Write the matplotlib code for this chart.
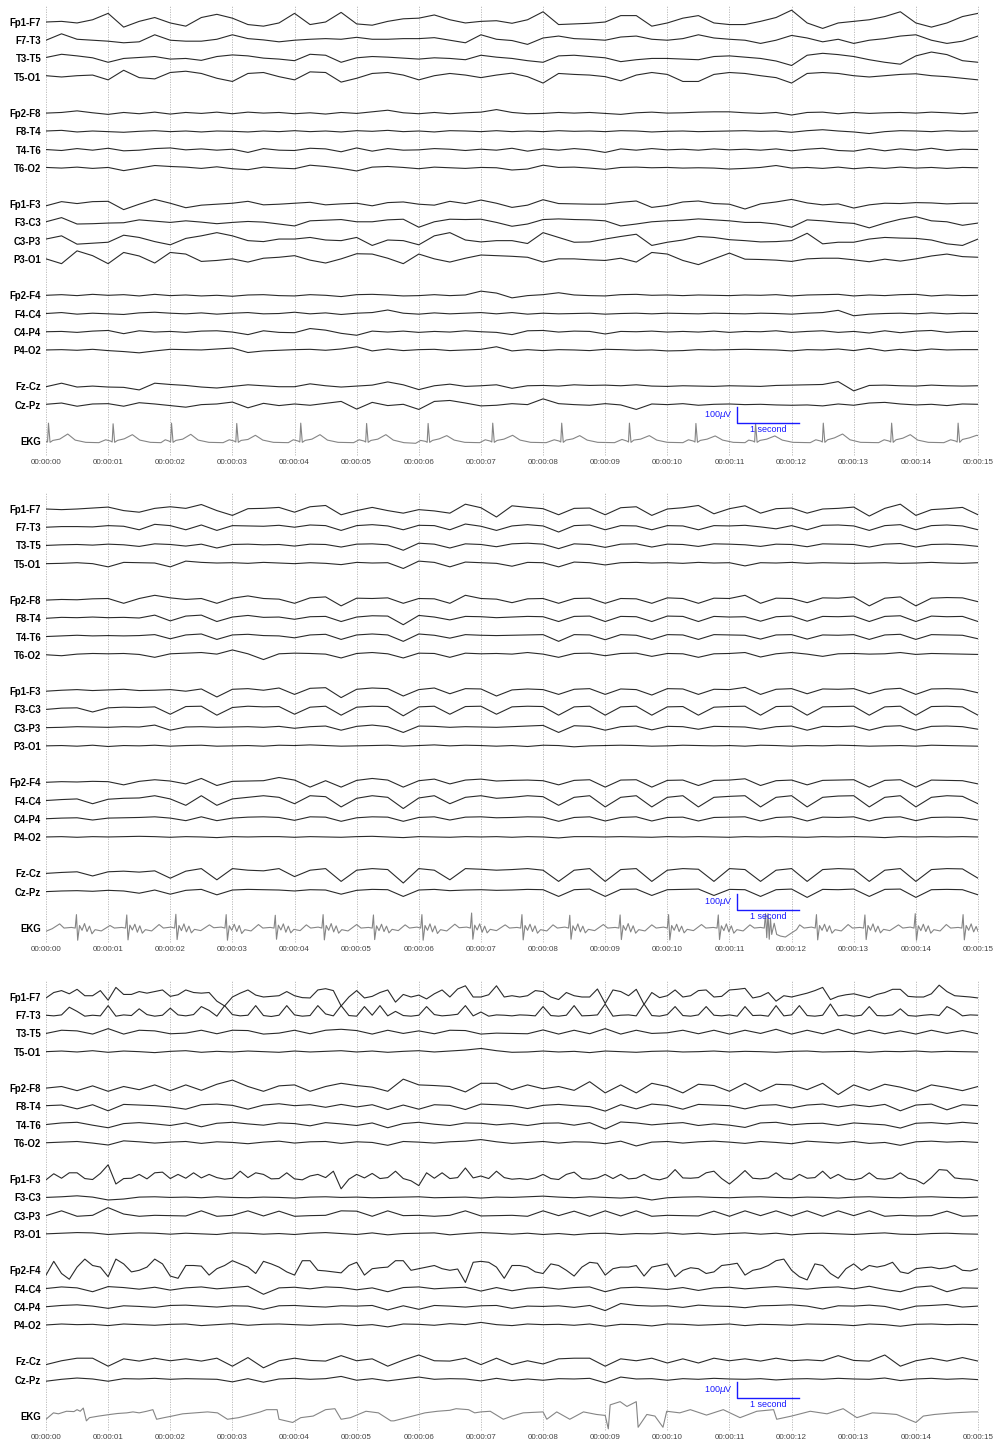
import matplotlib.pyplot as plt
import numpy as np

plt.rcParams["font.family"] = ["Liberation Sans", "DejaVu Sans"]

CHANNELS = [
    "Fp1-F7", "F7-T3", "T3-T5", "T5-O1",
    "Fp2-F8", "F8-T4", "T4-T6", "T6-O2",
    "Fp1-F3", "F3-C3", "C3-P3", "P3-O1",
    "Fp2-F4", "F4-C4", "C4-P4", "P4-O2",
    "Fz-Cz", "Cz-Pz",
]
SECONDS = list(range(16))
TIME_LABELS = [f"00:00:{s:02d}" for s in SECONDS]

# traces in microvolts, evenly spaced over the 15 s page

# ---- page 1 ----
p1_fp1_f7 = [0, 4, -6, 14, 54, -32, 4, 28, -6, -26, 28, 48, 24, -16, -26, -6, 54, -16, 0, 60, -12, -20, 4, 20, 24, 44, 14, -6, 4, 8, -8, 14, 64, -16, -12, -8, 0, 40, 40, -26, -6, 24, 40, -6, -16, -16, 4, 28, 74, -6, -40, -6, 4, 14, 34, 64, -6, -32, -6, 34, 54]
p1_f7_t3 = [0, 40, 6, 0, -6, -16, -10, 34, 0, -6, -6, 6, 34, 10, 2, -10, 0, 6, 10, 6, 18, 6, 6, 10, 10, 16, 0, -16, 34, 6, -2, -26, 14, 26, 10, 6, 0, 20, 26, 6, 0, 10, 34, 14, 6, 0, -20, 0, 30, 14, -10, 6, -20, 0, 10, 26, 34, 0, -20, -6, 26]
p1_t3_t5 = [6, 26, 16, 4, -24, 0, 6, 12, -4, 0, -12, 12, 22, 16, 2, -4, -14, 26, 20, -24, 4, 12, 8, 2, -4, 4, 0, -8, 20, 8, 0, -14, -24, 16, 20, 12, 4, -20, -8, 0, 0, -4, -8, 12, 16, 8, 0, -16, -44, 20, 32, 24, 12, -8, -24, -36, 16, 40, 24, -14, -24]
p1_t5_o1 = [6, -2, 6, 10, -20, 40, -6, -14, 26, 34, 20, -10, -30, 20, 26, 0, -20, 30, 26, -34, -10, 20, 26, 10, -20, 6, 20, 10, -6, 10, 22, 0, -40, 20, 14, 10, 0, -26, 10, 26, 14, -30, -30, 14, 26, 20, 6, -6, -40, 20, 26, 20, 6, -2, 6, 14, 18, 6, 0, -10, -20]
p1_fp2_f8 = [0, 4, 14, 2, -8, 4, -4, 6, -6, 4, -2, 6, -4, 6, 0, 4, -4, 2, -6, 4, -2, 8, 18, 2, -4, 4, -4, 2, 6, 22, 4, -4, -2, 4, 0, 4, -2, -8, 2, 6, 0, 2, 6, 8, 8, 2, -2, 4, -12, 4, 6, -4, 4, -2, 2, 4, 0, 6, 2, -4, 4]
p1_f8_t4 = [2, 6, -4, 2, -2, -6, 0, 4, -2, 2, -4, 2, 0, -4, 2, -2, 4, -2, 2, -4, 4, 0, 6, -2, 2, -4, 4, 2, -2, 4, -2, 2, -2, 4, 0, 2, -2, 4, 2, -4, 0, 2, -2, 0, 2, 4, 0, 2, -6, 4, 10, 2, -4, -14, -2, 4, 2, -2, 4, 0, 2]
p1_t4_t6 = [0, -6, 6, -4, 8, -8, -4, 6, 10, -2, 4, -4, 2, -18, 6, -4, -6, 8, 4, -14, 10, -10, 6, -4, -2, 6, 2, -6, 2, -4, 8, -10, 4, -4, 6, -2, -18, 4, -4, 6, -2, 2, -4, 4, -2, 2, -4, 4, -8, 2, 8, -6, -10, 6, -8, 4, -4, 8, -6, 2, 0]
p1_t6_o2 = [2, -2, 4, -4, 2, -18, -2, 14, 8, 4, -4, 6, -6, -12, 4, -2, -6, 16, 8, -4, -20, 4, 8, 2, -6, 4, 0, -4, 2, 0, -14, -8, 16, 2, 4, -2, -10, 2, 4, 0, 2, -2, 0, -2, -8, -4, 2, 14, -2, 2, -4, 4, -6, 2, -4, 4, -2, 2, -4, 2, 0]
p1_fp1_f3 = [-10, 16, 4, 16, 18, -34, 0, 30, 6, -22, -6, 0, 6, 18, -4, 0, 6, 12, -4, 2, 6, -10, 10, 14, 0, -6, 18, 4, 26, 6, -20, -6, 28, 4, 2, 0, 0, 12, 20, -20, -8, 14, 20, 4, 0, -30, 2, 14, 30, 8, -4, 2, -24, -4, 6, 4, 10, 8, 2, 6, 6]
p1_f3_c3 = [4, 30, -10, -8, -4, -2, 16, 8, 0, 10, 2, -8, 0, 6, 2, -10, -22, 10, 14, 18, 4, 4, 16, 20, -30, 4, 20, 18, 20, 0, -24, -10, 18, 22, 18, 16, 10, -22, -10, 4, 10, 14, 22, 16, 10, 0, 0, -10, -30, 16, 10, 0, -6, -34, -4, 20, 36, 10, 4, -18, -4]
p1_c3_p3 = [10, 30, -22, -16, -10, 34, 20, -6, -26, 14, 30, 50, 30, 0, -6, 10, 10, 20, 4, 0, 20, -30, 4, 0, -26, 30, 50, 4, -8, 0, 0, -18, 50, 20, -10, -8, 10, 26, 40, -30, -10, 4, 26, 20, 6, 0, -8, -6, 0, 46, -20, -10, -10, 10, 20, 16, 14, 4, -20, -30, 10]
p1_p3_o1 = [0, -30, 50, 20, -30, 40, 18, -26, 40, 30, -16, -10, 0, -20, 4, 10, 20, -8, -26, 0, 32, 30, 4, -30, 30, 0, -20, 4, 24, 20, 16, 10, -20, 0, 0, -6, -10, 4, -20, 40, 30, -10, -36, 0, 36, -2, -4, -8, -16, 0, 4, 4, -6, -18, -2, -14, 0, 18, 30, 14, 10]
p1_fp2_f4 = [0, 4, -2, 6, 0, 4, -4, 6, -2, 2, -4, 0, -6, 2, 4, -2, -4, 4, 0, -8, 4, 6, 2, -4, -2, 4, -2, 2, 26, 14, -16, -2, 4, 16, 2, -2, -4, 4, 6, 0, 2, -2, 2, 0, -2, 2, 0, 4, -4, 2, 4, 6, -4, 2, -2, 4, 6, -4, 2, -2, 0]
p1_f4_c4 = [0, 6, -4, 2, -2, -6, 4, 8, 2, -2, 4, -4, 2, 6, -2, 0, 8, -2, 4, -6, 2, 6, 22, 2, -4, 4, -2, 2, 6, -2, 6, -4, 2, -2, 0, 2, -4, 0, 2, -2, 2, 0, -2, 2, 0, -2, 2, 0, -4, 2, 6, 20, -14, -4, 0, 2, -2, 4, -2, 2, 0]
p1_c4_p4 = [0, 2, -4, 4, 8, -12, 6, -2, 2, -4, 4, 6, -2, -18, 6, -4, -6, 20, 10, -10, -22, 4, -2, 4, -4, 2, -2, 6, 0, -4, -18, 6, 8, -2, 4, 2, -14, 2, 0, 4, -2, 2, -2, 4, -4, 2, 0, 6, -4, 2, 6, -4, 2, -8, 6, -6, 4, 8, -4, 2, 2]
p1_p4_o2 = [0, 2, -2, 4, -4, -10, -18, -6, 4, 2, 0, 6, 12, -16, -6, -2, 2, 4, -2, 6, 20, -6, 6, -4, 2, 4, -4, 0, 4, 20, -6, 2, -4, 2, 0, -4, 4, 2, -2, 0, -6, -4, 2, 0, 2, 4, 2, 0, -6, 2, 0, 6, -4, 10, -6, 4, -4, 6, 0, 2, 2]
p1_fz_cz = [-2, 20, -4, 2, -4, -6, -22, 20, 12, 6, -4, -10, 0, 10, 4, -2, -2, 16, 4, -4, 2, 8, 28, 10, -20, 4, 14, 0, 4, 10, -12, 4, 6, 2, 10, 6, 8, 4, 10, 2, 0, 4, 2, 0, 4, 2, 0, 6, 8, 10, 12, 30, -28, 6, 8, 4, 2, 8, 4, 2, 4]
p1_cz_pz = [2, 10, -10, 4, 6, -10, 12, 4, -6, -16, 0, 4, 16, -20, 8, -6, 4, -4, 8, 20, -28, 14, -6, 2, -30, 20, 26, 10, -8, -4, 6, 0, 36, 6, 0, -4, 6, -2, -30, 4, 0, 6, -4, 2, 4, 0, 2, -2, -4, -2, -8, 4, -4, 10, 14, 4, -2, 2, -6, 4, 2]
p1_ekg = [
    (0.0, -2), (0.025, -6), (0.04, 112), (0.065, -8), (0.11, 4), (0.22, 12), (0.35, 44), (0.47, 6), (0.64, -8),
    (0.85, -10), (0.96, 8), (1.04, 0), (1.065, -6), (1.08, 108), (1.105, -8), (1.15, 4), (1.26, 14), (1.39, 40), (1.51, 6), (1.68, -8),
    (1.85, -10), (1.92, 8), (1.98, 0), (2.005, -6), (2.02, 112), (2.045, -8), (2.09, 4), (2.2, 12), (2.33, 42), (2.45, 6), (2.62, -8),
    (2.85, -10), (2.95, 8), (3.03, 0), (3.055, -6), (3.07, 110), (3.095, -8), (3.14, 4), (3.25, 10), (3.37, 36), (3.49, 6), (3.66, -8),
    (3.9, -10), (3.98, 8), (4.06, 0), (4.085, -6), (4.1, 112), (4.125, -8), (4.17, 4), (4.28, 12), (4.41, 40), (4.53, 6), (4.7, -8),
    (4.95, -10), (5.04, 8), (5.12, 0), (5.145, -6), (5.16, 110), (5.185, -8), (5.23, 4), (5.34, 12), (5.47, 40), (5.59, 6), (5.76, -10),
    (5.95, -14), (6.03, 4), (6.11, -2), (6.135, -8), (6.15, 110), (6.175, -8), (6.22, 4), (6.33, 14), (6.45, 34), (6.57, 6), (6.74, -8),
    (6.98, -10), (7.07, 8), (7.15, 0), (7.175, -6), (7.19, 112), (7.215, -8), (7.26, 4), (7.37, 12), (7.51, 36), (7.63, 6), (7.8, -8),
    (8.05, -10), (8.18, 8), (8.26, 0), (8.285, -6), (8.3, 112), (8.325, -8), (8.37, 6), (8.48, 14), (8.59, 34), (8.71, 6), (8.88, -8),
    (9.15, -10), (9.27, 10), (9.35, 0), (9.375, -6), (9.39, 112), (9.415, -8), (9.46, 6), (9.57, 12), (9.71, 34), (9.83, 6), (10.0, -8),
    (10.25, -10), (10.34, 8), (10.42, 0), (10.445, -6), (10.46, 110), (10.485, -8), (10.53, 4), (10.64, 12), (10.77, 32), (10.89, 6), (11.06, -8),
    (11.25, -10), (11.31, 6), (11.38, 0), (11.405, -6), (11.42, 110), (11.445, -8), (11.49, 4), (11.6, 12), (11.73, 32), (11.85, 6), (12.02, -8),
    (12.3, -10), (12.39, 8), (12.47, 0), (12.495, -6), (12.51, 112), (12.535, -8), (12.58, 8), (12.69, 20), (12.82, 44), (12.94, 8), (13.11, -8),
    (13.4, -10), (13.49, 8), (13.57, 0), (13.595, -6), (13.61, 112), (13.635, -8), (13.68, 8), (13.79, 18), (13.91, 40), (14.03, 6), (14.2, -8),
    (14.45, -10), (14.56, 8), (14.64, 0), (14.665, -6), (14.68, 112), (14.705, -8), (14.75, 10), (14.86, 20), (14.98, 36), (15.0, 34),
]

# ---- page 2 ----
p2_fp1_f7 = [0, -4, 0, 6, 12, -10, -20, 4, 14, 4, 28, -10, -40, 2, 4, 10, -20, 14, 22, -36, -10, 10, -10, -26, -4, -12, -26, 30, 8, -50, 20, 10, 2, -36, 4, 6, -36, 8, 14, -40, 0, 8, 22, -30, 2, 20, -26, 2, 6, -26, 0, 4, 12, -44, 4, 30, -40, -4, 2, 10, -36]
p2_f7_t3 = [0, 4, 4, 2, 10, 6, -16, 18, 10, -16, 14, -20, 10, 8, 6, 12, 0, 14, 10, -20, 10, 16, 8, -16, 12, 10, -16, 20, 6, -20, 8, 16, 8, -30, 10, 14, -16, 10, 8, -16, 10, 8, -16, 10, 8, 12, 2, -10, 10, -16, 12, 14, 8, -20, 10, 16, -16, 10, 14, 8, -16]
p2_t3_t5 = [0, 4, 6, 2, 8, 4, -6, 10, 6, -4, 8, -16, 6, 8, 4, 6, -4, 8, 6, -10, 8, 10, 4, -30, 14, 8, -16, 10, 6, -8, 10, 14, 8, -20, 10, 6, -12, 8, 10, -10, 8, 6, -6, 10, 8, 4, -6, 8, 6, -8, 10, 8, 6, -10, 8, 12, -10, 6, 8, 4, -6]
p2_t5_o1 = [0, 2, 6, 0, -20, 8, 6, 4, -20, 16, 8, 4, 6, 2, 8, 4, 0, 6, 2, -6, 8, 4, 6, -30, 16, 8, -20, 10, 6, 2, -16, 8, 6, -20, 10, 6, -8, 6, 8, 4, 6, 2, 8, 4, 6, -14, 6, 4, 8, 2, 6, 4, 2, 4, 6, 2, 4, 8, 4, 2, 6]
p2_fp2_f8 = [0, 4, 2, 8, 10, -20, 10, 30, 14, 4, 10, -20, 12, 26, 10, 6, -20, 14, 20, -36, 12, 10, 14, -20, 10, 8, -20, 30, 10, 6, -16, 8, 10, -20, 10, 12, -20, 10, 8, -20, 14, 10, -20, 12, 10, 30, -20, 12, 10, -16, 14, 12, 20, -36, 12, 20, -36, 12, 16, 14, -10]
p2_f8_t4 = [0, 6, 4, 8, 4, 6, 2, 20, -16, 14, 20, -20, 8, 18, 6, 8, -6, 10, 12, -20, 8, 16, 14, -40, 18, 8, -10, 12, 10, 4, 8, 12, 10, -20, 12, 14, -20, 12, 10, -20, 14, 12, -20, 12, 8, 10, -18, 10, 14, -18, 12, 10, 14, -20, 12, 16, -20, 14, 10, 12, -20]
p2_t4_t6 = [0, 4, 8, 4, 6, 4, 6, 12, -14, 10, 16, -18, 10, 14, 6, 4, -8, 10, 14, -18, 10, 16, 10, -30, 16, 8, -10, 12, 8, 6, 8, 10, 12, -30, 12, 10, -20, 12, 8, -18, 12, 10, -18, 12, 10, 8, -16, 10, 12, -16, 10, 8, 12, -18, 10, 14, -18, 12, 10, 8, -14]
p2_t6_o2 = [0, -6, 4, 8, 6, 8, 2, -16, 6, 10, 14, 4, 30, 6, -30, 6, 10, 8, 4, -20, 8, 14, 6, -20, 10, 8, -16, 10, 6, 8, 4, 14, 4, -16, 8, 10, -6, 8, 10, -10, 8, 6, -16, 6, 8, 14, -14, 6, 14, 4, -10, 6, 8, 4, 6, 14, 2, 8, 6, 4, 2]
p2_fp1_f3 = [0, 6, 10, 4, 8, 12, 4, 6, 10, 0, 14, -36, 12, 16, 6, 20, -20, 18, 22, -40, 12, 20, 16, -30, 10, 20, -16, 16, 14, -30, 8, 14, 10, -20, 12, 16, -20, 14, 10, -24, 16, 14, -20, 12, 10, 24, -20, 12, 16, -16, 14, 12, 16, -16, 12, 18, -20, 14, 16, 12, -10]
p2_f3_c3 = [0, 8, 10, -16, 10, 14, 12, 16, -30, 18, 20, -36, 12, 20, 16, 18, -30, 14, 20, -36, 14, 20, 18, -40, 16, 20, -30, 18, 20, -30, 16, 20, 18, -36, 16, 20, -36, 16, 20, -36, 16, 18, -36, 14, 18, 20, -36, 18, 20, -36, 16, 18, 20, -36, 16, 20, -36, 18, 20, 16, -36]
p2_c3_p3 = [0, 2, 6, 4, 2, 6, 4, 16, -16, 4, 6, 2, 4, 6, 2, 8, -4, 6, 10, -16, 8, 16, 6, -30, 10, 8, 2, 6, 4, 2, 6, 10, 14, -30, 12, 8, -16, 6, 10, -14, 8, 6, -10, 8, 6, 4, -10, 6, 10, -16, 8, 6, 10, -16, 8, 12, -16, 8, 10, 6, -10]
p2_p3_o1 = [0, 2, -2, 4, -4, 2, 0, 4, -2, 2, 4, -2, 0, 2, -2, 4, 2, 6, 2, -2, 0, 2, 4, -2, 2, 6, 0, 4, 2, -2, 2, -4, 4, 2, -6, 0, 2, 4, 2, -2, 0, 4, 2, 0, 2, -2, 4, 2, -2, 2, 0, 4, 2, -2, 0, 2, -2, 4, 2, 0, -2]
p2_fp2_f4 = [0, 4, 2, 6, 4, -16, 6, 16, 8, -10, 24, -20, 6, 8, 10, 30, 14, -30, 10, -30, 12, 24, 14, -30, 10, 20, -10, 14, 20, 8, 12, 14, 10, -16, 12, 16, -30, 14, 16, -30, 12, 14, -20, 12, 14, 22, -20, 10, 14, -16, 12, 14, 16, -30, 12, 16, -30, 14, 12, 10, -10]
p2_f4_c4 = [0, 6, 10, -20, 8, 14, 16, 30, 10, -30, 30, -30, 10, 20, 30, 20, -20, 30, 24, -40, 14, 30, 20, -50, 16, 30, -20, 20, 30, 14, 20, 30, 24, -30, 20, 30, -40, 20, 30, -40, 20, 30, -40, 20, 26, 30, -40, 20, 30, -40, 20, 28, 30, -40, 20, 30, -40, 20, 30, 26, -20]
p2_c4_p4 = [0, 4, 6, -8, 4, 6, 8, 12, 4, -12, 12, -12, 4, 10, 12, 8, -10, 12, 10, -16, 6, 12, 10, -16, 8, 12, -8, 10, 12, 6, 8, 12, 10, -16, 8, 12, -14, 8, 12, -14, 8, 10, -14, 8, 10, 12, -14, 8, 12, -14, 10, 8, 12, -14, 8, 12, -12, 8, 10, 8, -8]
p2_p4_o2 = [0, 2, -2, 2, 0, 2, 4, 2, -2, 2, 0, -4, 2, 0, 2, 2, -2, 2, 0, -2, 2, 4, 0, -4, 2, 0, -2, 2, 0, 2, -2, 2, 0, -6, 2, 2, 0, 2, 0, -2, 2, 0, 2, 0, -2, 2, 0, 2, 0, -2, 2, 0, 2, 0, -4, 2, 0, 2, 0, 2, 0]
p2_fz_cz = [0, 6, 10, -16, 10, 14, 8, 16, -30, 14, 30, -40, 30, 20, 16, 30, -20, 20, 30, -50, 20, 30, 24, -60, 30, 20, -40, 30, 26, 20, 24, 30, 20, -50, 20, 30, -50, 24, 30, -50, 20, 30, 26, -50, 30, 24, -50, 20, 30, -50, 24, 30, 26, -50, 20, 30, -50, 24, 30, 28, -30]
p2_cz_pz = [0, 4, 6, 2, 8, 4, -10, 10, -16, 8, 14, -20, 10, 14, 12, 10, 4, 12, 10, -16, 8, 14, 12, -30, 10, 14, 6, 10, 12, 8, 10, 14, 12, -30, 12, 16, -30, 14, 16, -24, 12, 14, 16, -24, 14, 12, -30, 12, 16, -36, 14, 12, 16, -30, 14, 16, -36, 12, 14, 12, -20]
p2_ekg = [
    (0.0, -20), (0.1, -4), (0.22, 26), (0.29, 0), (0.41, 4), (0.47, 0), (0.49, 84), (0.51, -76), (0.54, 16), (0.58, -14), (0.62, 28), (0.66, -22), (0.7, 12), (0.74, -36), (0.79, -10), (0.89, -18),
    (1.03, 16), (1.1, 0), (1.22, 4), (1.28, 0), (1.3, 82), (1.32, -74), (1.35, 18), (1.39, -12), (1.43, 24), (1.47, -26), (1.51, 14), (1.55, -32), (1.6, -10), (1.7, -18),
    (1.82, 22), (1.89, 0), (2.01, 6), (2.07, 0), (2.09, 86), (2.11, -72), (2.14, 16), (2.18, -16), (2.22, 26), (2.26, -24), (2.3, 12), (2.34, -30), (2.39, -8), (2.49, -16),
    (2.63, 20), (2.7, 2), (2.82, 6), (2.88, 0), (2.9, 84), (2.92, -76), (2.95, 14), (2.99, -14), (3.03, 24), (3.07, -22), (3.11, 16), (3.15, -34), (3.2, -10), (3.3, -18),
    (3.42, 22), (3.49, 0), (3.61, 4), (3.67, 0), (3.69, 80), (3.71, -70), (3.74, 18), (3.78, -12), (3.82, 26), (3.86, -26), (3.9, 12), (3.94, -30), (3.99, -8), (4.09, -16),
    (4.19, 20), (4.26, 0), (4.38, 6), (4.44, 0), (4.46, 84), (4.48, -74), (4.51, 16), (4.55, -14), (4.59, 28), (4.63, -24), (4.67, 14), (4.71, -32), (4.76, -10), (4.86, -18),
    (5.0, 22), (5.07, 0), (5.19, 4), (5.25, 0), (5.27, 82), (5.29, -72), (5.32, 14), (5.36, -16), (5.4, 24), (5.44, -22), (5.48, 12), (5.52, -30), (5.57, -8), (5.67, -16),
    (5.78, 20), (5.85, 0), (5.97, 6), (6.03, 0), (6.05, 84), (6.07, -76), (6.1, 16), (6.14, -14), (6.18, 26), (6.22, -24), (6.26, 14), (6.3, -34), (6.35, -10), (6.45, -18),
    (6.58, 24), (6.65, 2), (6.77, 6), (6.83, 0), (6.85, 94), (6.87, -70), (6.9, 18), (6.94, -12), (6.98, 26), (7.02, -26), (7.06, 12), (7.1, -30), (7.15, -8), (7.25, -16),
    (7.39, 20), (7.46, 0), (7.58, 4), (7.64, 0), (7.66, 84), (7.68, -74), (7.71, 16), (7.75, -14), (7.79, 24), (7.83, -22), (7.87, 14), (7.91, -32), (7.96, -10), (8.06, -18),
    (8.16, 20), (8.23, 0), (8.35, 6), (8.41, 0), (8.43, 80), (8.45, -70), (8.48, 14), (8.52, -16), (8.56, 26), (8.6, -24), (8.64, 12), (8.68, -30), (8.73, -8), (8.83, -16),
    (8.97, 22), (9.04, 0), (9.16, 4), (9.22, 0), (9.24, 82), (9.26, -72), (9.29, 16), (9.33, -14), (9.37, 28), (9.41, -24), (9.45, 14), (9.49, -32), (9.54, -10), (9.64, -18),
    (9.75, 20), (9.82, 0), (9.94, 6), (10.0, 0), (10.02, 84), (10.04, -74), (10.07, 16), (10.11, -14), (10.15, 24), (10.19, -22), (10.23, 12), (10.27, -30), (10.32, -8), (10.42, -16),
    (10.55, 22), (10.62, 0), (10.74, 4), (10.8, 0), (10.82, 82), (10.84, -72), (10.87, 14), (10.91, -16), (10.95, 26), (10.99, -24), (11.03, 14), (11.07, -32), (11.12, -10), (11.22, -18),
    (11.33, 20), (11.4, 0), (11.5, 4), (11.56, 0), (11.58, 90), (11.6, -60), (11.62, 90), (11.64, -70), (11.66, 60), (11.68, -40), (11.72, 30), (11.76, -40), (11.82, -50), (11.9, -56), (12.0, -30), (12.08, -10),
    (12.13, 20), (12.2, 0), (12.32, 6), (12.38, 0), (12.4, 84), (12.42, -74), (12.45, 16), (12.49, -14), (12.53, 24), (12.57, -22), (12.61, 14), (12.65, -32), (12.7, -10), (12.8, -18),
    (12.91, 22), (12.98, 0), (13.1, 4), (13.16, 0), (13.18, 82), (13.2, -72), (13.23, 16), (13.27, -14), (13.31, 26), (13.35, -24), (13.39, 12), (13.43, -30), (13.48, -8), (13.58, -16),
    (13.72, 20), (13.79, 0), (13.91, 6), (13.97, 0), (13.99, 90), (14.01, -76), (14.04, 14), (14.08, -16), (14.12, 24), (14.16, -22), (14.2, 14), (14.24, -32), (14.29, -10), (14.39, -18),
    (14.49, 22), (14.56, 0), (14.68, 4), (14.74, 0), (14.76, 84), (14.78, -74), (14.81, 16), (14.85, -14), (14.89, 26), (14.93, -24), (14.97, 10), (15.0, -20),
]

# ---- page 3 ----
p3_fp1_f7 = [-6, 28, 40, 20, 48, 8, 8, 40, -20, 60, 16, 16, 34, 24, 34, 44, 4, 14, 44, 28, 24, 28, -26, -56, 0, 24, 44, 12, 0, 4, 8, 34, 8, -4, -6, 44, 52, 40, -56, 0, 40, -6, 4, 28, 44, -32, 16, 0, 12, -12, 20, 44, 0, 50, 70, 0, 0, 14, 70, 0, 8, 0, 8, 40, 34, 0, -16, 28, 8, 0, 0, 50, -40, 44, 34, 8, 48, -46, 28, -4, 8, 44, 0, 8, 40, 44, 0, 4, 44, 48, 54, -6, 4, 28, -26, 8, 0, 12, 24, 40, 60, -16, 4, 14, 20, 8, -4, 16, 28, 48, 48, 4, 0, 0, 20, 74, 34, 8, 4, 0, -6]
p3_f7_t3 = [0, -4, 2, 50, 24, -6, 0, -4, 60, -6, 2, -2, 40, 4, -6, 0, 44, 2, -4, 4, 54, 30, -6, 60, 4, -4, 0, 60, -2, -8, 0, 60, 2, -6, -2, 60, 8, -4, 60, -2, -6, 54, 0, 60, -4, 24, -2, -6, 0, 54, 4, -4, 0, 6, 60, -4, 20, -6, 2, 0, -4, 2, 0, -4, 54, -2, -6, 0, 60, -4, -2, 2, 70, -6, 0, 2, -4, 70, -2, -6, 4, 54, -2, -6, 2, 54, 0, -4, 2, -6, 54, -2, 0, -6, 60, -4, 2, 60, -2, -6, 0, 70, -4, 2, -6, 0, 54, -2, -4, 2, 40, -2, -6, 0, 4, -2, 54, 30, -4, 2, 0]
p3_t3_t5 = [0, 20, 16, -4, 30, -4, 20, 16, -2, 2, 20, -2, 20, 18, -4, 2, 20, -2, 20, 26, 18, -4, 20, 0, 16, -2, 20, 18, -4, 2, 0, -2, 22, -4, 20, -2, 30, -4, 20, 0, 4, 20, -2, 20, -4, 20, 0, 26, -4, 20, -2, 26, -4, 20, -2, 16, -4, 20, 0, 18, -2]
p3_t5_o1 = [0, 4, -2, 6, -4, 4, 0, -6, 2, 6, -4, 2, -2, 4, 0, -4, 4, -2, 2, 6, -2, 4, -4, 2, 6, -2, 4, 10, 20, 6, -4, -2, 4, -2, 2, -6, 4, 0, -4, 2, 4, -2, 0, 4, -2, 2, 0, -4, 2, 4, -2, 0, 2, -4, 2, 0, 4, -2, 2, 0, -2]
p3_fp2_f8 = [0, 10, -16, 14, -20, 10, -10, 20, -16, 20, -14, 24, 50, 10, -20, 14, 20, -20, 10, 30, 16, 6, -20, 56, 20, 16, 10, -24, 30, 30, -10, 20, -4, 10, -14, 40, -30, 20, -30, 30, 10, -30, 24, 16, -20, 30, -20, 24, 20, -10, 30, -40, 20, -14, 24, 6, -20, 20, 4, -16, 10]
p3_f8_t4 = [4, 8, -16, 10, -28, 12, 8, 4, -4, -18, 10, 14, 6, -18, 8, 16, 4, 10, -6, 12, -4, 10, -20, 8, -18, 10, 6, -20, 14, 10, 4, -14, 6, 12, 4, -2, -30, 10, -16, 14, 6, -18, 12, 8, 4, -16, 6, 10, -10, 8, 14, -4, 10, -2, 12, -28, 8, 14, -22, 10, 4]
p3_t4_t6 = [0, 10, 14, -4, -20, 6, 12, 4, -6, 10, -14, 8, 14, 4, -4, 10, 6, -8, 12, 4, -6, 10, -20, 6, 14, 2, -6, 10, 8, -2, 6, -6, 8, 10, -4, 12, -28, 16, 10, -2, 6, 12, -6, 4, -4, -18, 10, 14, -2, 6, 8, -6, 10, 4, -2, -22, 8, 12, 4, 14, 6]
p3_t6_o2 = [0, 4, 8, -2, -14, 12, 6, -2, 4, 8, -4, 6, 2, -6, 4, 10, -2, 6, 8, -4, 6, 2, -16, 8, 4, -2, 6, 10, 20, 6, -4, 2, 8, -2, 6, 4, -6, 10, -20, 4, 8, -2, 6, 10, 4, -4, 8, 2, -6, 10, 4, -2, 8, -4, 2, -16, 6, 10, 4, 8, 2]
p3_fp1_f3 = [-4, 34, 6, 40, 40, 4, -2, 36, 90, -30, 4, 6, 30, 2, 40, 44, 4, 30, 6, 40, 8, 30, 10, 0, 6, 50, 10, 40, 30, 2, 4, 40, 2, -4, 20, 30, 10, 50, -60, 0, 30, 8, 36, 4, 10, 50, 4, -10, -40, 40, 6, 40, 4, 10, 70, 8, 20, 4, 50, 10, 0, 4, -2, 8, 30, 4, -2, 30, 44, 4, 0, 8, 30, 4, 30, 2, 6, 30, 4, -4, 10, 60, 8, 6, 10, 40, 50, 4, -30, 10, 54, 6, 2, 8, 40, 4, -2, 30, 6, 10, 50, 4, 30, 2, -4, 6, 40, 4, 0, 8, 40, 6, -4, -30, 10, 60, 56, 8, 2, 0, -10]
p3_f3_c3 = [0, 4, 10, 2, -16, -10, 2, 4, 0, 2, -2, 4, 0, -2, 2, 0, -4, 2, 4, 0, 2, -2, 0, 2, 4, -2, 0, 2, -4, 2, 0, 4, 8, 2, -2, 4, 0, -4, 2, -16, -2, 2, 4, 0, -2, 2, 4, 0, -2, 2, 0, -4, 2, 4, 0, -2, 2, 4, 0, -2, 2]
p3_c3_p3 = [0, 30, -4, 2, 50, 10, -4, 2, 0, -2, 30, -4, 2, 30, -2, 28, -4, 0, 2, 30, 28, -4, 30, 0, 2, -4, 2, 30, -2, 0, 2, -4, 30, 0, 28, -4, 30, -2, 30, -4, 2, 0, -2, 28, -4, 30, 0, 30, -2, 30, -4, 30, 0, 30, -4, 2, -2, 0, 28, -4, 0]
p3_p3_o1 = [0, 4, 8, 6, -4, 2, 6, 4, -2, 4, 0, -4, 6, 4, -2, 2, -4, 4, 8, 2, -4, 6, -6, 2, 4, 6, -6, 2, 8, 4, -2, 4, -4, 2, -6, 2, 4, -4, 2, 0, 6, -2, 4, -4, 2, 6, -2, 4, -6, 2, 4, 0, -4, 2, 6, -2, -4, 2, 4, 0, -2]
p3_fp2_f4 = [-30, 56, -20, -56, 20, 70, 30, 20, -40, 70, 40, -10, 0, 20, 70, 40, -36, -50, 30, 30, 26, -30, 10, 30, 60, 40, 20, -20, 56, 40, 20, -10, -30, 60, 60, 0, -4, -10, -16, 30, 50, -30, 10, 16, 20, 60, 60, 0, 10, 20, 30, 10, 0, 8, -76, 50, 56, 50, 20, -50, 30, 30, 20, -10, -20, 40, 30, 0, -36, 20, 50, 44, -30, 10, 20, 20, 30, -36, 20, 30, 40, -40, 0, 16, 10, -20, -10, 30, 36, 44, -30, 0, 10, 30, 60, 70, 0, -40, -60, 40, 30, -20, -50, 10, 40, 0, 30, 20, 30, 50, -10, -20, 10, 16, 20, 10, 16, 30, 0, -4, 10]
p3_f4_c4 = [0, 10, 4, -20, 12, 6, -4, 8, -10, 4, 10, -2, 6, 14, -36, 4, 8, -2, 10, 6, -8, 4, -20, 6, 10, -2, 4, 8, -16, 6, -14, 2, 8, -4, 6, 10, -20, 4, 8, 2, -6, 6, -12, 4, 8, -2, 6, 12, 4, -4, 6, 10, -2, 14, -6, -20, 8, 16, -20, 4, 2]
p3_c4_p4 = [0, 8, 12, 4, -10, 6, 2, -4, 8, 10, 4, -2, 6, 4, -16, 6, 8, 2, -2, 6, 4, 8, -20, 6, -16, 8, 4, -2, 6, 8, -10, 4, 2, 6, -4, 8, -24, 20, 8, 4, 6, -4, 10, 4, 2, -6, 6, 8, 12, 4, -14, 6, 4, 10, 2, -20, 4, 8, 14, -2, 4]
p3_p4_o2 = [0, 6, 2, 4, -4, 6, 2, -2, 4, 6, -4, 2, 8, -2, 4, 6, 2, -2, 4, 6, -4, 2, -12, 6, 4, -2, 8, 2, 16, 2, -4, 6, 2, 4, -2, 6, -8, 4, 2, -6, 6, 4, -2, 2, 6, -4, 4, 2, -2, 6, 4, 2, -4, 6, 2, -8, 4, 6, 2, 4, 2]
p3_fz_cz = [-20, 4, 20, 20, -30, 16, 2, 20, 4, 16, 2, 20, -30, 24, -40, 4, 20, 6, 2, 36, 4, 16, -30, 8, 40, 4, 2, 20, -20, 20, -20, 4, -16, 16, 20, 20, -30, 16, 4, 20, -10, 16, -10, 20, 4, 16, 2, 20, 4, 10, 4, 36, 6, 2, 40, -30, 4, 20, 2, 24, 2]
p3_cz_pz = [-10, 2, 10, 4, -10, 6, 4, 8, 2, 6, 4, 2, -14, 6, -16, 4, 8, 2, 6, 20, -4, 6, -8, 4, 16, 2, 6, 4, -8, 8, -6, 4, -4, 6, 4, 8, -20, 16, 4, 6, -4, 6, 2, 8, 4, 2, 6, -2, 4, 6, 2, 8, 4, 2, 10, -6, 4, 8, 2, 6, 0]
p3_ekg = [
    (0.0, -20), (0.12, 20), (0.2, 14), (0.33, 30), (0.45, 28), (0.5, 40), (0.55, 30), (0.6, 50), (0.65, -30), (0.7, -10),
    (0.85, 0), (1.03, 10), (1.15, 16), (1.3, 20), (1.4, 26), (1.5, 20), (1.62, 30), (1.72, 40), (1.78, -20), (1.9, -10),
    (2.03, 0), (2.2, 14), (2.4, 20), (2.6, 26), (2.76, 20), (2.92, -20), (3.1, -10), (3.3, 10), (3.45, 26), (3.55, 40),
    (3.72, 40), (3.75, -20), (3.97, -40), (4.1, -10), (4.3, 0), (4.4, 20), (4.5, 40), (4.65, 46), (4.75, -20), (4.9, -10),
    (5.15, 30), (5.35, 20), (5.55, -30), (5.6, -30), (5.8, -10), (6.1, 20), (6.3, 30), (6.5, 36), (6.6, 46), (6.8, 40),
    (6.9, 20), (7.0, 26), (7.15, 30), (7.36, -20), (7.5, 0), (7.68, 20), (8.0, 26), (8.06, -20), (8.22, 26), (8.43, -20),
    (8.65, 26), (8.86, 10), (9.0, 4), (9.05, -80), (9.08, 70), (9.24, 90), (9.35, 60), (9.5, 90), (9.53, -70), (9.67, 10),
    (9.8, 0), (9.93, -70), (9.99, 30), (10.2, 20), (10.37, 40), (10.63, 6), (10.9, 40), (11.17, -10), (11.44, 30), (11.71, 40),
    (11.76, -20), (12.0, 0), (12.3, 30), (12.57, 14), (12.83, 46), (13.05, -10), (13.3, 20), (13.5, 16), (13.69, 10), (14.0, -40),
    (14.12, 0), (14.3, 10), (14.6, 20), (14.9, 26), (15.0, 26),
]

PAGES = [
    ([p1_fp1_f7, p1_f7_t3, p1_t3_t5, p1_t5_o1, p1_fp2_f8, p1_f8_t4, p1_t4_t6, p1_t6_o2, p1_fp1_f3,
      p1_f3_c3, p1_c3_p3, p1_p3_o1, p1_fp2_f4, p1_f4_c4, p1_c4_p4, p1_p4_o2, p1_fz_cz, p1_cz_pz], p1_ekg),
    ([p2_fp1_f7, p2_f7_t3, p2_t3_t5, p2_t5_o1, p2_fp2_f8, p2_f8_t4, p2_t4_t6, p2_t6_o2, p2_fp1_f3,
      p2_f3_c3, p2_c3_p3, p2_p3_o1, p2_fp2_f4, p2_f4_c4, p2_c4_p4, p2_p4_o2, p2_fz_cz, p2_cz_pz], p2_ekg),
    ([p3_fp1_f7, p3_f7_t3, p3_t3_t5, p3_t5_o1, p3_fp2_f8, p3_f8_t4, p3_t4_t6, p3_t6_o2, p3_fp1_f3,
      p3_f3_c3, p3_c3_p3, p3_p3_o1, p3_fp2_f4, p3_f4_c4, p3_c4_p4, p3_p4_o2, p3_fz_cz, p3_cz_pz], p3_ekg),
]

# layout (pixels of a 994x1443 page)
FIG_W, FIG_H = 994, 1443
AX_LEFT, AX_RIGHT = 46, 978
AX_HEIGHT = 450
PAGE_TOPS = [5, 492, 980]
UV_PER_PX = 6.25            # 100 uV = 16 px
SLOT_PX = 18.22
SLOT_UV = SLOT_PX * UV_PER_PX
TOP_MARGIN_PX = 17
SLOTS = [0, 1, 2, 3, 5, 6, 7, 8, 10, 11, 12, 13, 15, 16, 17, 18, 20, 21]
EKG_SLOT = 23


def draw_page(ax, traces, ekg):
    for slot, values in zip(SLOTS, traces):
        t = np.linspace(0, 15, len(values))
        ax.plot(t, np.asarray(values) - slot * SLOT_UV, color="#2a2a2a", lw=0.8)

    ekg_t, ekg_v = zip(*ekg)
    ax.plot(ekg_t, np.asarray(ekg_v) - EKG_SLOT * SLOT_UV, color="#858585", lw=0.8)

    for s in SECONDS:
        ax.axvline(s, color="#b4b4b4", lw=0.6, ls=(0, (1.5, 1.5)), zorder=0, clip_on=False)

    # calibration bar
    bar_t = 11.12
    bar_y = -22.0 * SLOT_UV
    ax.plot([bar_t, bar_t, bar_t + 1], [bar_y + 100, bar_y, bar_y], color="#1a1aff", lw=1.0)
    ax.text(bar_t - 0.06, bar_y + 50, "100$\\mu$V", color="#1a1aff", fontsize=6.5,
            ha="right", va="center")
    ax.text(bar_t + 0.5, bar_y - 0.35 * SLOT_UV, "1 second", color="#1a1aff", fontsize=6.5,
            ha="center", va="center")

    ax.set_xlim(0, 15)
    ax.set_ylim(-(AX_HEIGHT - TOP_MARGIN_PX) * UV_PER_PX, TOP_MARGIN_PX * UV_PER_PX)
    ax.set_yticks([-s * SLOT_UV for s in SLOTS + [EKG_SLOT]], CHANNELS + ["EKG"],
                  fontsize=6.9, fontweight="bold")
    ax.set_xticks(SECONDS, TIME_LABELS, fontsize=5.8, color="#444444")
    ax.tick_params(axis="y", length=0, pad=3.5)
    ax.tick_params(axis="x", length=0, pad=3.0)
    for spine in ax.spines.values():
        spine.set_visible(False)


def main():
    fig = plt.figure(figsize=(FIG_W / 100, FIG_H / 100), dpi=100)
    for top, (traces, ekg) in zip(PAGE_TOPS, PAGES):
        ax = fig.add_axes([
            AX_LEFT / FIG_W,
            1 - (top + AX_HEIGHT) / FIG_H,
            (AX_RIGHT - AX_LEFT) / FIG_W,
            AX_HEIGHT / FIG_H,
        ])
        draw_page(ax, traces, ekg)
    fig.savefig("out.png", dpi=100)
    plt.close(fig)


if __name__ == "__main__":
    main()
